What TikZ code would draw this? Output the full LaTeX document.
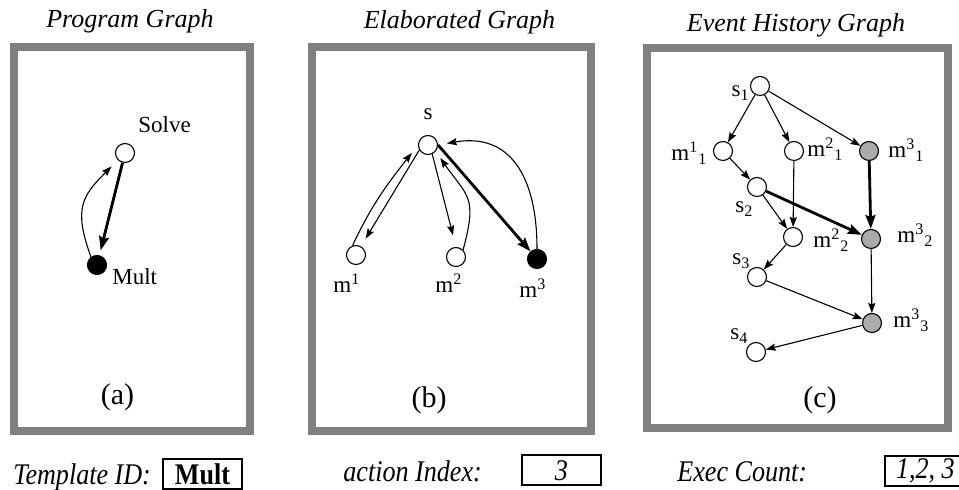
\documentclass[tikz,border=0pt]{standalone}
\usepackage{fontspec}
\setmainfont{Liberation Serif}
\usepackage{graphicx}
\usepackage{xcolor}
\usetikzlibrary{arrows.meta}

\newcommand{\sqz}[1]{\scalebox{0.87}[1]{#1}}

\tikzset{
  vtx/.style={circle,draw,fill=white,line width=0.55pt,inner sep=0pt,minimum size=9.5pt},
  vtxb/.style={vtx,fill=black},
  vtxg/.style={vtx,fill=black!33},
  lbl/.style={font=\fontsize{11.5}{13}\selectfont,inner sep=0pt},
  ttl/.style={font=\fontsize{13}{15}\selectfont\itshape,inner sep=0pt},
  panel/.style={font=\fontsize{15}{17}\selectfont,inner sep=0pt},
  capt/.style={font=\fontsize{15}{17}\selectfont,inner sep=0pt},
  frm/.style={draw=black!50,line width=4pt},
  arr/.style={-{Stealth[length=5pt,width=3.6pt,inset=0.8pt]},line width=0.55pt},
  thk/.style={-{Stealth[length=7pt,width=5pt,inset=1pt]},line width=1.4pt},
  valbox/.style={draw,line width=1pt,inner sep=0pt,minimum height=15pt,font=\fontsize{15}{17}\selectfont}
}

\begin{document}
\begin{tikzpicture}[x=0.5pt,y=0.5pt]
	\useasboundingbox (0,0) rectangle (959,-490);
	\clip (0,0) rectangle (959,-490);

	\draw[frm] (14,-47) rectangle (249.5,-431);
	\draw[frm] (312,-47) rectangle (591,-431);
	\draw[frm] (647,-48) rectangle (948,-428);

	\node (ttla) at (130,-28) [ttl,anchor=base] {Program Graph};
	\node (ttlb) at (459.5,-29) [ttl,anchor=base] {Elaborated Graph};
	\node (ttlc) at (796,-32) [ttl,anchor=base] {Event History Graph};

	% (a)
	\node (solve) at (125,-153) [vtx] {};
	\node (mult) at (97,-265) [vtxb] {};
	\node (solvel) at (138,-133) [lbl,anchor=base west] {Solve};
	\node (multl) at (112,-285) [lbl,anchor=base west] {Mult};
	\draw[thk,shorten >=2.5pt] (solve) -- (mult);
	\draw[arr,shorten >=4.5pt] (mult.127) to[out=110,in=225,looseness=1.3] (solve.225);
	\node (pa) at (117.5,-405) [panel,anchor=base] {(a)};

	% (b)
	\node (s) at (428,-145) [vtx] {};
	\node (m1) at (356,-255) [vtx] {};
	\node (m2) at (456,-257) [vtx] {};
	\node (m3) at (537,-259) [vtxb] {};
	\node (sl) at (428,-120) [lbl,anchor=base] {s};
	\node (m1l) at (333,-293) [lbl,anchor=base west] {m\textsuperscript{1}};
	\node (m2l) at (435,-293) [lbl,anchor=base west] {m\textsuperscript{2}};
	\node (m3l) at (519,-298) [lbl,anchor=base west] {m\textsuperscript{3}};
	\draw[arr,shorten >=4.5pt] (s.210) -- (m1.60);
	\draw[arr,shorten >=5pt] (m1.110) to[out=65,in=232] (s.west);
	\draw[arr,shorten >=6pt] (s.295) -- (m2.north);
	\draw[arr,shorten >=4pt] (m2.45) to[out=75,in=-55,looseness=1.4] (s.-40);
	\draw[thk] (s.east) -- (m3);
	\draw[arr,shorten >=4.5pt] (m3.north) to[out=90,in=10,looseness=1.3] (s.east);
	\node (pb) at (429,-408) [panel,anchor=base] {(b)};

	% (c)
	\node (s1) at (760,-86) [vtx] {};
	\node (m11) at (723,-151) [vtx] {};
	\node (m21) at (794,-151) [vtx] {};
	\node (m31) at (869,-151) [vtxg] {};
	\node (s2) at (757,-187) [vtx] {};
	\node (m22) at (793,-237) [vtx] {};
	\node (m32) at (871,-239) [vtxg] {};
	\node (s3) at (757,-277) [vtx] {};
	\node (m33) at (872,-323) [vtxg] {};
	\node (s4) at (756,-352) [vtx] {};
	\node (s1l) at (750,-97) [lbl,anchor=base east] {s\textsubscript{1}};
	\node (m11l) at (671,-161) [lbl,anchor=base west] {m\textsuperscript{1}\textsubscript{1}};
	\node (m21l) at (807,-157) [lbl,anchor=base west] {m\textsuperscript{2}\textsubscript{1}};
	\node (m31l) at (888,-158) [lbl,anchor=base west] {m\textsuperscript{3}\textsubscript{1}};
	\node (s2l) at (735,-213) [lbl,anchor=base west] {s\textsubscript{2}};
	\node (m22l) at (813,-248) [lbl,anchor=base west] {m\textsuperscript{2}\textsubscript{2}};
	\node (m32l) at (897,-243) [lbl,anchor=base west] {m\textsuperscript{3}\textsubscript{2}};
	\node (s3l) at (732,-265) [lbl,anchor=base west] {s\textsubscript{3}};
	\node (m33l) at (893,-328) [lbl,anchor=base west] {m\textsuperscript{3}\textsubscript{3}};
	\node (s4l) at (730,-340) [lbl,anchor=base west] {s\textsubscript{4}};
	\draw[arr] (s1) -- (m11);
	\draw[arr] (s1) -- (m21);
	\draw[arr] (s1) -- (m31);
	\draw[arr] (m11) -- (s2);
	\draw[arr] (s2) -- (m22);
	\draw[arr] (m21) -- (m22);
	\draw[thk] (s2) -- (m32);
	\draw[thk] (m31) -- (m32);
	\draw[arr] (m22) -- (s3);
	\draw[arr] (s3) -- (m33);
	\draw[arr] (m32) -- (m33);
	\draw[arr] (m33) -- (s4);
	\node (pc) at (820,-408) [panel,anchor=base] {(c)};

	\node (tidl) at (13,-485) [capt,anchor=base west] {\sqz{\textit{Template ID:}}};
	\node (tid) at (202.5,-474) [valbox,minimum width=39.5pt] {\sqz{\textbf{Mult}}};
	\node (aidl) at (343,-482) [capt,anchor=base west] {\sqz{\textit{action Index:}}};
	\node (aid) at (561.5,-470.5) [valbox,minimum width=39.5pt] {\sqz{\textit{3}}};
	\node (ecl) at (677,-482) [capt,anchor=base west] {\sqz{\textit{Exec Count:}}};
	\node (ec) at (884,-471) [valbox,anchor=west,inner xsep=5.5pt] {\sqz{\textit{1,2, 3}}};
\end{tikzpicture}
\end{document}
